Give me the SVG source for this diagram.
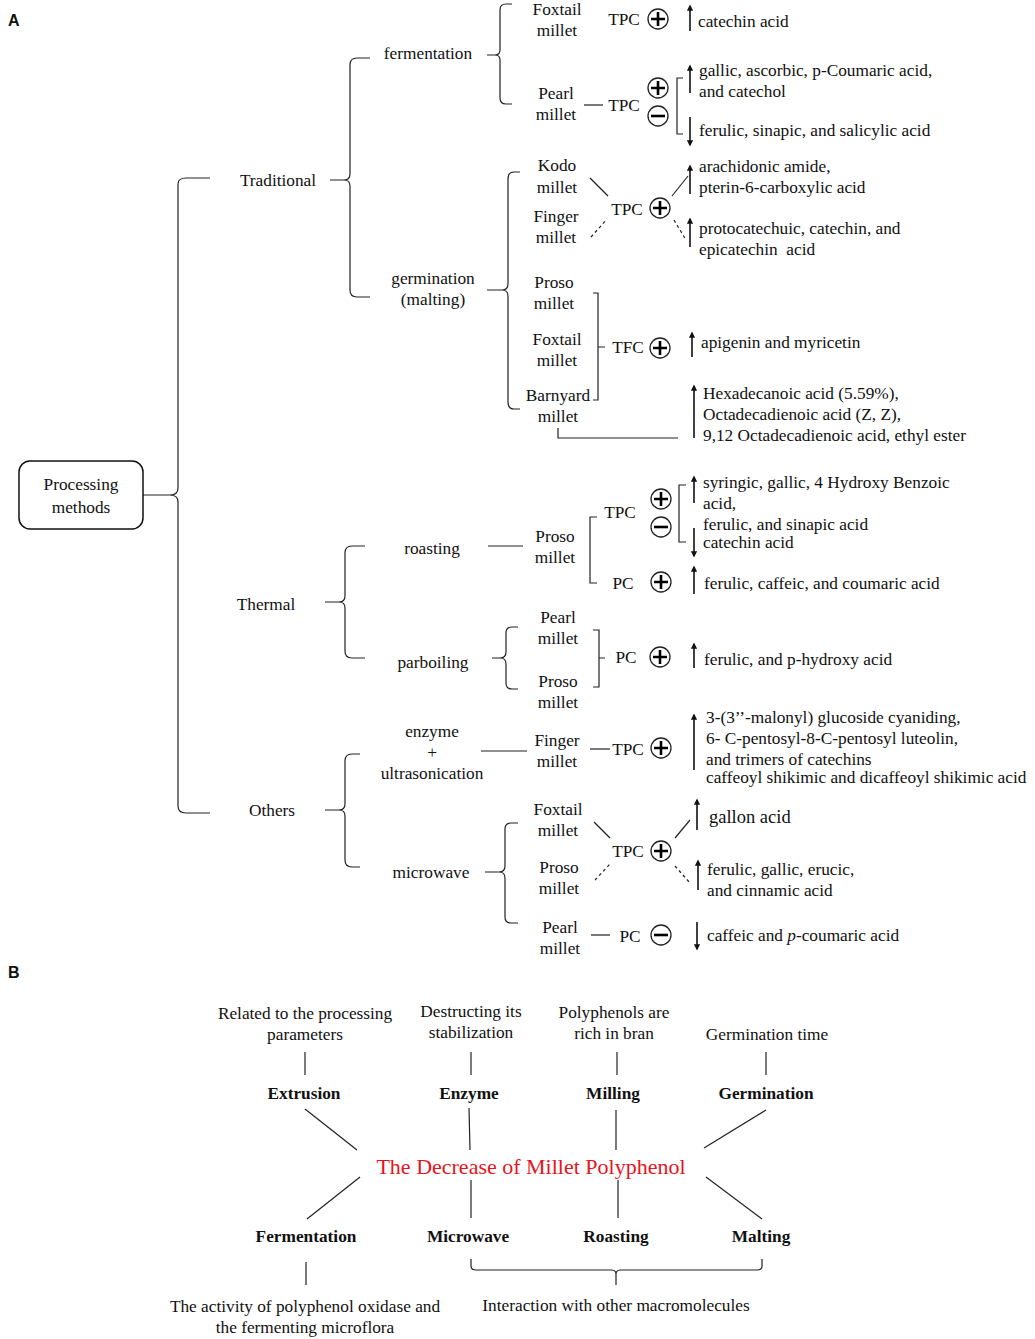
<svg xmlns="http://www.w3.org/2000/svg" xmlns:xlink="http://www.w3.org/1999/xlink" width="1035" height="1339" viewBox="0 0 1035 1339">
<style>
text{font-family:"Liberation Serif","Times New Roman",serif;font-size:17.3px;fill:#111}
.c{text-anchor:middle}
.b{font-weight:bold}
.lab{font-family:"Liberation Sans",Arial,sans-serif;font-weight:bold;font-size:16px}
.red{fill:#e8141b;font-size:22px}
.ln{fill:none;stroke:#222;stroke-width:1.2}
.dt{fill:none;stroke:#222;stroke-width:1.2;stroke-dasharray:3 3}
.ar{fill:none;stroke:#111;stroke-width:1.6;marker-end:url(#ah)}
.sym circle{fill:#fff;stroke:#222;stroke-width:1.3}
.sym path{stroke:#000;stroke-width:2.6}
</style>
<defs>
<marker id="ah" viewBox="0 0 8 8" refX="6" refY="4" markerWidth="4" markerHeight="4" orient="auto"><path d="M0,0 L8,4 L0,8 z" fill="#111"/></marker>
<g id="plus" class="sym"><circle r="10"/><path d="M-7,0H7M0,-7V7"/></g>
<g id="minus" class="sym"><circle r="10"/><path d="M-7,0H7"/></g>
</defs>
<rect width="1035" height="1339" fill="#fff"/>
<text class="lab" x="8" y="26">A</text>
<text class="lab" x="8" y="978">B</text>

<g id="connectors">
<path class="ln" d="M143,495 H170 Q178,495 178,488 V184 Q178,178 186,178 H210 M178,502 V806 Q178,813 186,813 H210 M170,495 Q178,495 178,502"/>
<path class="ln" d="M330,180 H344 Q350,180 350,174 V65 Q350,58 357,58 H370 M344,180 Q350,180 350,186 V290 Q350,297 357,297 H370"/>
<path class="ln" d="M487,55 H495 Q500,55 500,50 V10 Q500,4 506,4 H512 M495,55 Q500,55 500,60 V98 Q500,104 506,104 H512"/>
<line class="ln" x1="584" y1="105" x2="603" y2="105"/>
<path class="ln" d="M683,78 H677 V134 H683"/>
<path class="ln" d="M487,290 H502 Q508,290 508,284 V179 Q508,172 514,172 H520 M502,290 Q508,290 508,296 V402 Q508,409 514,409 H520"/>
<line class="ln" x1="590" y1="178" x2="608" y2="196"/>
<line class="dt" x1="591" y1="237" x2="607" y2="219"/>
<line class="ln" x1="672" y1="196" x2="688" y2="176"/>
<line class="dt" x1="674" y1="220" x2="686" y2="240"/>
<path class="ln" d="M593,293 H598 V400 H593 M598,347 H605"/>
<path class="ln" d="M558,428 V438 H678"/>
<path class="ln" d="M325,602 H339 Q345,602 345,596 V553 Q345,546 352,546 H365 M339,602 Q345,602 345,608 V651 Q345,658 352,658 H365"/>
<line class="ln" x1="488" y1="546" x2="523" y2="546"/>
<path class="ln" d="M597,517 H590 V583 H597"/>
<path class="ln" d="M686,485 H679 V542 H686"/>
<path class="ln" d="M492,658 H500 Q506,658 506,652 V633 Q506,627 512,627 H518 M500,658 Q506,658 506,664 V683 Q506,689 512,689 H518"/>
<path class="ln" d="M593,630 H599 V687 H593 M599,658 H605"/>
<path class="ln" d="M325,810 H339 Q345,810 345,804 V761 Q345,754 352,754 H360 M339,810 Q345,810 345,816 V860 Q345,867 352,867 H360"/>
<line class="ln" x1="481" y1="751" x2="527" y2="751"/>
<line class="ln" x1="590" y1="749" x2="610" y2="749"/>
<path class="ln" d="M485,872 H499 Q505,872 505,866 V829 Q505,823 511,823 H518 M499,872 Q505,872 505,878 V917 Q505,923 511,923 H518"/>
<line class="ln" x1="594" y1="822" x2="610" y2="838"/>
<line class="dt" x1="595" y1="880" x2="610" y2="864"/>
<line class="ln" x1="675" y1="838" x2="690" y2="820"/>
<line class="dt" x1="675" y1="866" x2="690" y2="883"/>
<line class="ln" x1="591" y1="935" x2="610" y2="935"/>

<line class="ar" x1="690" y1="31" x2="690" y2="6"/>
<line class="ar" x1="690" y1="93" x2="690" y2="66"/>
<line class="ar" x1="690" y1="117" x2="690" y2="145"/>
<line class="ar" x1="690" y1="194" x2="690" y2="166"/>
<line class="ar" x1="690" y1="247" x2="690" y2="219"/>
<line class="ar" x1="692" y1="357" x2="692" y2="333"/>
<line class="ar" x1="694" y1="438" x2="694" y2="386"/>
<line class="ar" x1="694" y1="503" x2="694" y2="477"/>
<line class="ar" x1="694" y1="528" x2="694" y2="556"/>
<line class="ar" x1="694" y1="594" x2="694" y2="567"/>
<line class="ar" x1="694" y1="668" x2="694" y2="644"/>
<line class="ar" x1="694" y1="770" x2="694" y2="715"/>
<line class="ar" x1="697" y1="830" x2="697" y2="800"/>
<line class="ar" x1="698" y1="890" x2="698" y2="861"/>
<line class="ar" x1="697" y1="922" x2="697" y2="949"/>

<line class="ln" x1="305" y1="1052" x2="305" y2="1075"/>
<line class="ln" x1="471" y1="1052" x2="471" y2="1075"/>
<line class="ln" x1="617" y1="1052" x2="617" y2="1075"/>
<line class="ln" x1="766" y1="1052" x2="766" y2="1075"/>
<line class="ln" x1="305" y1="1109" x2="357" y2="1150"/>
<line class="ln" x1="469" y1="1108" x2="470" y2="1150"/>
<line class="ln" x1="616" y1="1110" x2="616" y2="1150"/>
<line class="ln" x1="766" y1="1110" x2="704" y2="1148"/>
<line class="ln" x1="360" y1="1177" x2="307" y2="1219"/>
<line class="ln" x1="471" y1="1180" x2="471" y2="1218"/>
<line class="ln" x1="618" y1="1180" x2="618" y2="1218"/>
<line class="ln" x1="706" y1="1177" x2="762" y2="1219"/>
<line class="ln" x1="306" y1="1262" x2="306" y2="1285"/>
<path class="ln" d="M471,1259 V1266 Q471,1270 476,1270 H611 Q616,1270 616,1274 V1285 M616,1274 Q616,1270 621,1270 H757 Q762,1270 762,1266 V1259"/>
</g>

<g id="root"><rect x="19" y="461" width="124" height="68" rx="11" fill="#fff" stroke="#111" stroke-width="1.5"/><text class="c" x="81" y="490">Processing</text><text class="c" x="81" y="513">methods</text></g>
<g id="traditional"><text class="c" x="278" y="186">Traditional</text></g>
<g id="thermal"><text class="c" x="266" y="610">Thermal</text></g>
<g id="others"><text class="c" x="272" y="816">Others</text></g>
<g id="fermentation"><text class="c" x="428" y="59">fermentation</text></g>
<g id="germination"><text class="c" x="433" y="284">germination</text><text class="c" x="433" y="305">(malting)</text></g>
<g id="roasting"><text class="c" x="432" y="554">roasting</text></g>
<g id="parboiling"><text class="c" x="433" y="668">parboiling</text></g>
<g id="enzyme"><text class="c" x="432" y="737">enzyme</text><text class="c" x="432" y="758">+</text><text class="c" x="432" y="779">ultrasonication</text></g>
<g id="microwave"><text class="c" x="431" y="878">microwave</text></g>

<g id="ferm-results">
<text class="c" x="557" y="15">Foxtail</text><text class="c" x="557" y="36">millet</text>
<text class="c" x="624" y="25">TPC</text><use xlink:href="#plus" x="658" y="19"/>
<text x="698" y="27">catechin acid</text>
<text class="c" x="556" y="99">Pearl</text><text class="c" x="556" y="120">millet</text>
<text class="c" x="624" y="111">TPC</text><use xlink:href="#plus" x="658" y="88"/><use xlink:href="#minus" x="658" y="116"/>
<text x="699" y="76">gallic, ascorbic, p-Coumaric acid,</text><text x="699" y="97">and catechol</text>
<text x="699" y="136">ferulic, sinapic, and salicylic acid</text>
</g>
<g id="germ-results">
<text class="c" x="557" y="171">Kodo</text><text class="c" x="557" y="193">millet</text>
<text class="c" x="556" y="222">Finger</text><text class="c" x="556" y="243">millet</text>
<text class="c" x="627" y="215">TPC</text><use xlink:href="#plus" x="660" y="208"/>
<text x="699" y="172">arachidonic amide,</text><text x="699" y="193">pterin-6-carboxylic acid</text>
<text x="699" y="234">protocatechuic, catechin, and</text><text x="699" y="255" xml:space="preserve">epicatechin  acid</text>
<text class="c" x="554" y="288">Proso</text><text class="c" x="554" y="309">millet</text>
<text class="c" x="557" y="345">Foxtail</text><text class="c" x="557" y="366">millet</text>
<text class="c" x="558" y="401">Barnyard</text><text class="c" x="558" y="422">millet</text>
<text class="c" x="628" y="353">TFC</text><use xlink:href="#plus" x="660" y="348"/>
<text x="701" y="348">apigenin and myricetin</text>
<text x="703" y="399">Hexadecanoic acid (5.59%),</text><text x="703" y="420">Octadecadienoic acid (Z, Z),</text><text x="703" y="441">9,12 Octadecadienoic acid, ethyl ester</text>
</g>
<g id="roast-results">
<text class="c" x="555" y="542">Proso</text><text class="c" x="555" y="563">millet</text>
<text class="c" x="620" y="518">TPC</text><text class="c" x="623" y="589">PC</text>
<use xlink:href="#plus" x="661" y="499"/><use xlink:href="#minus" x="661" y="527"/><use xlink:href="#plus" x="661" y="582"/>
<text x="703" y="488">syringic, gallic, 4 Hydroxy Benzoic</text><text x="703" y="509">acid,</text>
<text x="703" y="530">ferulic, and sinapic acid</text><text x="703" y="548">catechin acid</text>
<text x="704" y="589">ferulic, caffeic, and coumaric acid</text>
</g>
<g id="parb-results">
<text class="c" x="558" y="623">Pearl</text><text class="c" x="558" y="644">millet</text>
<text class="c" x="558" y="687">Proso</text><text class="c" x="558" y="708">millet</text>
<text class="c" x="626" y="663">PC</text><use xlink:href="#plus" x="660" y="657"/>
<text x="704" y="665">ferulic, and p-hydroxy acid</text>
</g>
<g id="enz-results">
<text class="c" x="557" y="746">Finger</text><text class="c" x="557" y="767">millet</text>
<text class="c" x="628" y="755">TPC</text><use xlink:href="#plus" x="661" y="748"/>
<text x="706" y="723">3-(3’’-malonyl) glucoside cyaniding,</text><text x="706" y="744">6- C-pentosyl-8-C-pentosyl luteolin,</text><text x="706" y="765">and trimers of catechins</text><text x="706" y="783">caffeoyl shikimic and dicaffeoyl shikimic acid</text>
</g>
<g id="micro-results">
<text class="c" x="558" y="815">Foxtail</text><text class="c" x="558" y="836">millet</text>
<text class="c" x="559" y="873">Proso</text><text class="c" x="559" y="894">millet</text>
<text class="c" x="560" y="933">Pearl</text><text class="c" x="560" y="954">millet</text>
<text class="c" x="628" y="857">TPC</text><use xlink:href="#plus" x="661" y="851"/>
<text x="709" y="823" style="font-size:18.5px">gallon acid</text>
<text x="707" y="875">ferulic, gallic, erucic,</text><text x="707" y="896">and cinnamic acid</text>
<text class="c" x="630" y="942">PC</text><use xlink:href="#minus" x="661" y="935"/>
<text x="707" y="941">caffeic and <tspan font-style="italic">p</tspan>-coumaric acid</text>
</g>

<g id="b-top">
<text class="c" x="305" y="1019">Related to the processing</text><text class="c" x="305" y="1040">parameters</text>
<text class="c" x="471" y="1017">Destructing its</text><text class="c" x="471" y="1038">stabilization</text>
<text class="c" x="614" y="1018">Polyphenols are</text><text class="c" x="614" y="1039">rich in bran</text>
<text class="c" x="767" y="1040">Germination time</text>
</g>
<g id="b-methods">
<text class="c b" x="304" y="1099">Extrusion</text><text class="c b" x="469" y="1099">Enzyme</text><text class="c b" x="613" y="1099">Milling</text><text class="c b" x="766" y="1099">Germination</text>
<text class="c b" x="306" y="1242">Fermentation</text><text class="c b" x="468" y="1242">Microwave</text><text class="c b" x="616" y="1242">Roasting</text><text class="c b" x="761" y="1242">Malting</text>
</g>
<g id="b-center"><text class="c red" x="531" y="1174">The Decrease of Millet Polyphenol</text></g>
<g id="b-bottom">
<text class="c" x="305" y="1312">The activity of polyphenol oxidase and</text><text class="c" x="305" y="1333">the fermenting microflora</text>
<text class="c" x="616" y="1311">Interaction with other macromolecules</text>
</g>
</svg>
